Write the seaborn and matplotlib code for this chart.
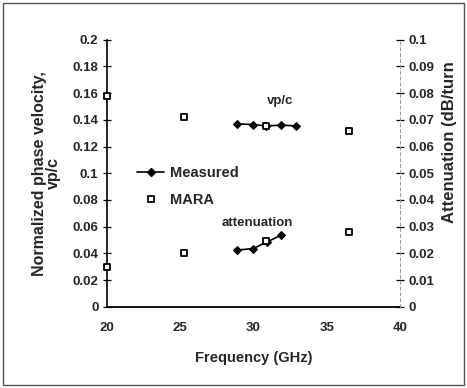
import matplotlib
matplotlib.use("Agg")
import matplotlib.pyplot as plt
from matplotlib.lines import Line2D
from matplotlib.patches import Rectangle
import seaborn as sns
import pandas as pd

# Data
meas_vp_freq = [28.9, 29.95, 30.85, 31.9, 32.9]
meas_vp = [0.137, 0.1365, 0.1355, 0.136, 0.1355]
meas_att_freq = [28.9, 30.0, 30.9, 31.9]
meas_att = [0.0212, 0.0218, 0.0242, 0.0268]
mara_freq = [20.0, 25.3, 30.85, 36.5]
mara_vp = [0.158, 0.1425, 0.1355, 0.132]
mara_att = [0.015, 0.020, 0.0245, 0.028]

x_ticks = [20, 25, 30, 35, 40]
left_ticks = [0, 0.02, 0.04, 0.06, 0.08, 0.1, 0.12, 0.14, 0.16, 0.18, 0.2]
left_labels = ["0", "0.02", "0.04", "0.06", "0.08", "0.1", "0.12", "0.14", "0.16", "0.18", "0.2"]
right_ticks = [0, 0.01, 0.02, 0.03, 0.04, 0.05, 0.06, 0.07, 0.08, 0.09, 0.1]
right_labels = ["0", "0.01", "0.02", "0.03", "0.04", "0.05", "0.06", "0.07", "0.08", "0.09", "0.1"]

sns.set_theme(style="white")
plt.rcParams["font.family"] = ["Liberation Sans", "DejaVu Sans"]
plt.rcParams["font.weight"] = "bold"

fig = plt.figure(figsize=(4.67, 3.88), dpi=100)
ax = fig.add_axes([0.2285, 0.2095, 0.628, 0.688])
ax2 = ax.twinx()

df_vp = pd.DataFrame({"f": meas_vp_freq, "v": meas_vp})
df_att = pd.DataFrame({"f": meas_att_freq, "v": meas_att})
df_mvp = pd.DataFrame({"f": mara_freq, "v": mara_vp})
df_matt = pd.DataFrame({"f": mara_freq, "v": mara_att})

line_kw = dict(color="black", linewidth=1.2, marker="D", markersize=4,
               markeredgecolor="black", markerfacecolor="black")
sns.lineplot(data=df_vp, x="f", y="v", ax=ax, **line_kw)
sns.lineplot(data=df_att, x="f", y="v", ax=ax2, **line_kw)

sq_kw = dict(marker="s", s=22, facecolor="white", edgecolor="black", linewidth=1.3, zorder=5)
sns.scatterplot(data=df_mvp, x="f", y="v", ax=ax, clip_on=False, **sq_kw)
sns.scatterplot(data=df_matt, x="f", y="v", ax=ax2, clip_on=False, **sq_kw)

ax.set_xlim(20, 40)
ax.set_ylim(0, 0.2)
ax2.set_ylim(0, 0.1)
ax.set_xticks(x_ticks)
ax.set_xticklabels([str(t) for t in x_ticks], fontsize=9.5, fontweight="bold")
ax.set_yticks(left_ticks)
ax.set_yticklabels(left_labels, fontsize=9.5, fontweight="bold")
ax2.set_yticks(right_ticks)
ax2.set_yticklabels(right_labels, fontsize=9.5, fontweight="bold")

ax.tick_params(axis="x", direction="inout", length=6, width=0.9, color="black", pad=8)
ax.tick_params(axis="y", direction="inout", length=6, width=0.9, color="black", pad=3)
ax2.tick_params(axis="y", direction="inout", length=6, width=0.9, color="black", pad=3)

for a in (ax, ax2):
    a.spines["top"].set_visible(False)
    a.grid(False)
ax.spines["right"].set_visible(False)
ax2.spines["left"].set_visible(False)
ax2.spines["bottom"].set_visible(False)
ax2.spines["right"].set_color("#999999")
ax2.spines["right"].set_linestyle((0, (3, 3)))
ax2.spines["right"].set_linewidth(0.7)
ax.spines["left"].set_color("black")
ax.spines["left"].set_linewidth(1.2)
ax.spines["bottom"].set_color("black")
ax.spines["bottom"].set_linewidth(1.3)

ax.set_xlabel("Frequency (GHz)", fontsize=10.5, fontweight="bold", labelpad=12)
ax.set_ylabel("Normalized phase velocity,\nvp/c", fontsize=11.5, fontweight="bold",
              labelpad=8, linespacing=0.95)
ax2.set_ylabel("")
fig.text(0.962, 0.634, "Attenuation (dB/turn", rotation=90, fontsize=12,
         fontweight="bold", ha="center", va="center")

ax.text(31.8, 0.154, "vp/c", fontsize=9.5, ha="center", va="center")
ax.text(30.3, 0.063, "attenuation", fontsize=9.5, ha="center", va="center")

handles = [
    Line2D([], [], color="black", linewidth=1.2, marker="D", markersize=4),
    Line2D([], [], color="black", linestyle="none", marker="s", markersize=4.5,
           markerfacecolor="white", markeredgewidth=1.3),
]
leg = ax.legend(handles, ["Measured", "MARA"], loc="center left",
                bbox_to_anchor=(0.06, 0.45), frameon=False, handlelength=1.8,
                handletextpad=0.4, labelspacing=0.9,
                prop={"size": 10.5, "weight": "bold"})

fig.patches.append(Rectangle((0.006, 0.008), 0.988, 0.984, transform=fig.transFigure,
                             fill=False, edgecolor="#555555", linewidth=1.0))

fig.savefig("out.png", dpi=100, facecolor="white")
